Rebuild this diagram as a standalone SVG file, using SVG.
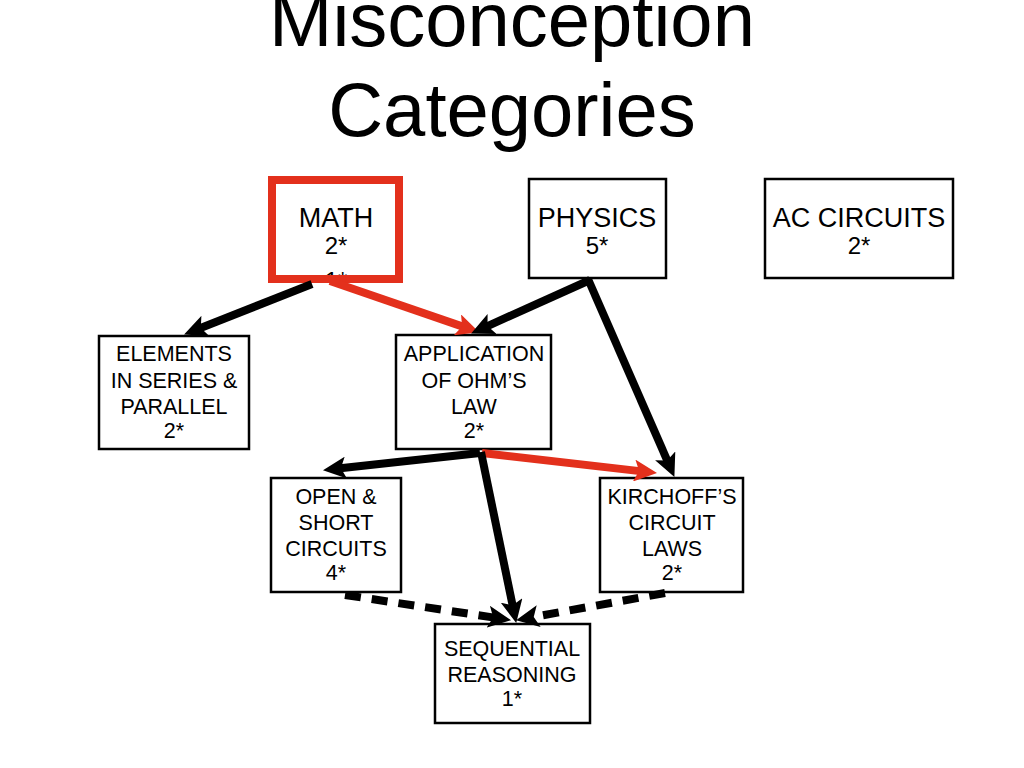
<svg xmlns="http://www.w3.org/2000/svg" width="1024" height="768" viewBox="0 0 1024 768">
<defs>
<style>
.t{font-family:"Liberation Sans",Arial,sans-serif;fill:#000;text-anchor:middle}
.title{font-size:76px}
.big{font-size:27px}
.mid{font-size:24px}
.sm{font-size:21.5px}
.box{fill:#fff;stroke:#000;stroke-width:2.5}
.redbox{fill:#fff;stroke:#e3301c;stroke-width:8}
.blk{stroke:#000;stroke-width:8;fill:none;marker-end:url(#ab)}
.red{stroke:#e3301c;stroke-width:8;fill:none;marker-end:url(#ar)}
.dash{stroke:#000;stroke-width:8;fill:none;stroke-dasharray:16 11;marker-end:url(#ab)}
</style>
<marker id="ab" viewBox="0 0 24 22" markerWidth="24" markerHeight="22" refX="8" refY="11" orient="auto" markerUnits="userSpaceOnUse">
<path d="M0,0 L23,11 L0,22 L5,11 z" fill="#000"/>
</marker>
<marker id="ar" viewBox="0 0 24 22" markerWidth="24" markerHeight="22" refX="8" refY="11" orient="auto" markerUnits="userSpaceOnUse">
<path d="M0,0 L23,11 L0,22 L5,11 z" fill="#e3301c"/>
</marker>
<clipPath id="mathclip"><rect x="276" y="184" width="119" height="91"/></clipPath>
</defs>
<rect width="1024" height="768" fill="#fff"/>
<g id="title">
<text class="t title" x="512" y="46">Misconception</text>
<text class="t title" x="512" y="136">Categories</text>
</g>
<g id="math">
<rect class="redbox" x="272" y="180" width="127" height="99"/>
<text class="t big" x="336" y="227">MATH</text>
<text class="t mid" x="336" y="254">2*</text>
<text class="t mid" x="336" y="289" clip-path="url(#mathclip)">1*</text>
</g>
<g id="physics">
<rect class="box" x="529" y="179" width="137" height="99"/>
<text class="t big" x="597" y="227">PHYSICS</text>
<text class="t mid" x="597" y="254">5*</text>
</g>
<g id="ac">
<rect class="box" x="765" y="179" width="188" height="99"/>
<text class="t big" x="859" y="227">AC CIRCUITS</text>
<text class="t mid" x="859" y="254">2*</text>
</g>
<g id="elements">
<rect class="box" x="99" y="336" width="150" height="113"/>
<text class="t sm" x="174" y="361">ELEMENTS</text>
<text class="t sm" x="174" y="388">IN SERIES &amp;</text>
<text class="t sm" x="174" y="414">PARALLEL</text>
<text class="t sm" x="174" y="438">2*</text>
</g>
<g id="ohm">
<rect class="box" x="396" y="335" width="155" height="114"/>
<text class="t sm" x="474" y="361">APPLICATION</text>
<text class="t sm" x="474" y="388">OF OHM’S</text>
<text class="t sm" x="474" y="414">LAW</text>
<text class="t sm" x="474" y="438">2*</text>
</g>
<g id="open">
<rect class="box" x="271" y="478" width="130" height="114"/>
<text class="t sm" x="336" y="504">OPEN &amp;</text>
<text class="t sm" x="336" y="530">SHORT</text>
<text class="t sm" x="336" y="556">CIRCUITS</text>
<text class="t sm" x="336" y="580">4*</text>
</g>
<g id="kirchoff">
<rect class="box" x="600" y="478" width="143" height="114"/>
<text class="t sm" x="672" y="504">KIRCHOFF’S</text>
<text class="t sm" x="672" y="530">CIRCUIT</text>
<text class="t sm" x="672" y="556">LAWS</text>
<text class="t sm" x="672" y="580">2*</text>
</g>
<g id="sequential">
<rect class="box" x="435" y="624" width="155" height="99"/>
<text class="t sm" x="512" y="656">SEQUENTIAL</text>
<text class="t sm" x="512" y="682">REASONING</text>
<text class="t sm" x="512" y="706">1*</text>
</g>
<g id="connectors">
<line class="blk" x1="312" y1="284" x2="198" y2="329"/>
<line class="red" x1="330" y1="281" x2="465" y2="327.4"/>
<line class="blk" x1="590" y1="280" x2="484.8" y2="327.3"/>
<line class="blk" x1="588" y1="279" x2="668.4" y2="463.2"/>
<line class="blk" x1="480" y1="453" x2="337.9" y2="468.5"/>
<line class="red" x1="482" y1="453" x2="642.1" y2="471.4"/>
<line class="blk" x1="481" y1="452" x2="513.2" y2="608.3"/>
<line class="dash" x1="345" y1="595" x2="496.2" y2="617.9"/>
<line class="dash" x1="665" y1="593" x2="530.8" y2="617.5"/>
</g>
</svg>
